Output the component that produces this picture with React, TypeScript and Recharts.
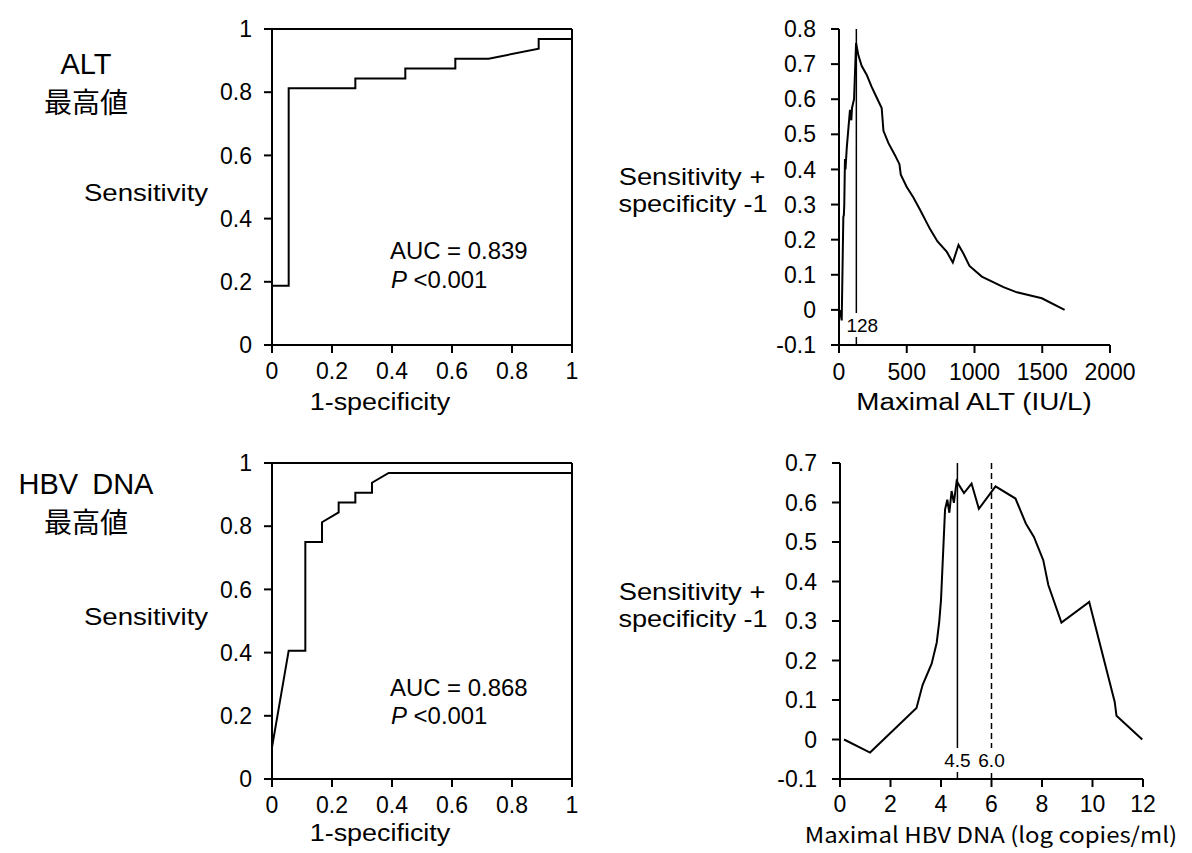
import React from 'react';
import { LineChart, Line, XAxis, YAxis, ReferenceLine } from 'recharts';

// ROC curve, maximal ALT
const altRocFpr = [0, 0.0556, 0.0556, 0.2778, 0.2778, 0.4444, 0.4444, 0.6111, 0.6111, 0.7222, 0.8889, 0.8889, 1];
const altRocTpr = [0.1875, 0.1875, 0.8125, 0.8125, 0.84375, 0.84375, 0.875, 0.875, 0.90625, 0.90625, 0.9375, 0.96875, 0.96875];

// ROC curve, maximal HBV DNA
const hbvRocFpr = [0, 0.0556, 0.1111, 0.1111, 0.1667, 0.1667, 0.2222, 0.2222, 0.2778, 0.2778, 0.3333, 0.3333, 0.3889, 1];
const hbvRocTpr = [0.1, 0.40625, 0.40625, 0.75, 0.75, 0.8125, 0.84375, 0.875, 0.875, 0.90625, 0.90625, 0.9375, 0.96875, 0.96875];

// Youden index vs maximal ALT
const altCutoff = [7, 20, 32, 36, 39, 44, 48, 57, 81, 91, 96, 111, 126, 143, 167, 204, 241, 278, 315, 328, 365, 414, 446, 456, 500, 549, 598, 672, 727, 796, 840, 882, 919, 963, 1054, 1214, 1313, 1497, 1665];
const altYouden = [0, -0.03, 0.265, 0.27, 0.3, 0.43, 0.4, 0.46, 0.57, 0.54, 0.575, 0.6, 0.76, 0.725, 0.695, 0.67, 0.635, 0.605, 0.575, 0.51, 0.475, 0.44, 0.415, 0.385, 0.35, 0.32, 0.285, 0.23, 0.195, 0.165, 0.135, 0.185, 0.16, 0.125, 0.095, 0.065, 0.05, 0.033, 0];

// Youden index vs maximal HBV DNA (log copies/ml)
const hbvCutoff = [0.16, 1.19, 3.03, 3.27, 3.63, 3.83, 3.93, 4.0, 4.16, 4.25, 4.33, 4.42, 4.51, 4.62, 4.91, 5.21, 5.5, 6.16, 6.95, 7.36, 7.68, 8.05, 8.25, 8.77, 9.87, 10.88, 10.95, 11.97];
const hbvYouden = [0, -0.033, 0.08, 0.138, 0.192, 0.245, 0.298, 0.353, 0.582, 0.607, 0.574, 0.629, 0.599, 0.654, 0.624, 0.648, 0.584, 0.641, 0.61, 0.547, 0.513, 0.454, 0.391, 0.296, 0.348, 0.095, 0.06, 0];

const rocTicks = [0, 0.2, 0.4, 0.6, 0.8, 1];
const altYTicks = [-0.1, 0, 0.1, 0.2, 0.3, 0.4, 0.5, 0.6, 0.7, 0.8];
const altXTicks = [0, 500, 1000, 1500, 2000];
const hbvYTicks = [-0.1, 0, 0.1, 0.2, 0.3, 0.4, 0.5, 0.6, 0.7];
const hbvXTicks = [0, 2, 4, 6, 8, 10, 12];

const altBestCut = 128;
const hbvBestCut = 4.65;
const hbvAltCut = 6.0;

const FONT = '"Liberation Sans", Arial, sans-serif';
const CJK = '"Noto Sans CJK JP", sans-serif';

const toRows = (xs: number[], ys: number[]) => xs.map((x, i) => ({ x, y: ys[i] }));

const fmtDec = (v: number) => (v === 0 || v === 1 ? String(v) : v.toFixed(1));
const fmtInt = (v: number) => String(v);

interface PanelProps {
  left: number;
  top: number;
  plotW: number;
  plotH: number;
  data: { x: number; y: number }[];
  xDomain: [number, number];
  yDomain: [number, number];
  xTicks: number[];
  yTicks: number[];
  xFmt: (v: number) => string;
  yFmt: (v: number) => string;
  xTickGap: number;
  yTickGap: number;
  children?: React.ReactNode;
}

const axisProps = {
  axisLine: { stroke: '#000', strokeWidth: 2 },
  tickLine: { stroke: '#000', strokeWidth: 2 },
  tickSize: 8,
  interval: 0 as const,
  tick: { fill: '#000', fontSize: 23, fontFamily: FONT },
};

// plot area lands exactly at (left, top) with size plotW x plotH
const Panel: React.FC<PanelProps> = ({ left, top, plotW, plotH, data, xDomain, yDomain, xTicks, yTicks, xFmt, yFmt, xTickGap, yTickGap, children }) => (
  <div style={{ position: 'absolute', left: left - 100, top: top - 28 }}>
    <LineChart
      width={plotW + 140}
      height={plotH + 78}
      data={data}
      margin={{ top: 28, right: 40, bottom: 0, left: 0 }}
      style={{ overflow: 'visible' }}
    >
      <XAxis
        type="number"
        dataKey="x"
        domain={xDomain}
        ticks={xTicks}
        tickFormatter={xFmt}
        height={50}
        tickMargin={xTickGap}
        {...axisProps}
      />
      <YAxis
        type="number"
        domain={yDomain}
        ticks={yTicks}
        tickFormatter={yFmt}
        width={100}
        tickMargin={yTickGap}
        {...axisProps}
      />
      {children}
      <Line dataKey="y" type="linear" stroke="#000" strokeWidth={2} dot={false} activeDot={false} isAnimationActive={false} />
    </LineChart>
  </div>
);

// cut-off label with white box that interrupts the reference line
const cutLabel = (text: string, dx: number, up: number) => (props: any) => {
  const vb = props.viewBox || {};
  const cx = vb.x + dx;
  const cy = vb.y + vb.height - up;
  const w = text.length * 10.5 + 4;
  return (
    <g>
      <rect x={cx - w / 2} y={cy - 12} width={w} height={24} fill="#fff" />
      <text x={cx} y={cy + 7} textAnchor="middle" fontSize={19} fontFamily={FONT} fill="#000">{text}</text>
    </g>
  );
};

const T: React.FC<{ x: number; y: number; sx?: number; size?: number; anchor?: 'start' | 'middle' | 'end'; family?: string; gap?: number; children: React.ReactNode }> = ({ x, y, sx = 1, size = 23, anchor = 'middle', family = FONT, gap, children }) => (
  <text transform={`translate(${x},${y}) scale(${sx},1)`} textAnchor={anchor} fontSize={size} fontFamily={family} wordSpacing={gap} fill="#000">
    {children}
  </text>
);

export default function App() {
  return (
    <div style={{ position: 'absolute', left: 0, top: 0, width: 1192, height: 853, background: '#fff', fontFamily: FONT }}>
      <Panel left={272} top={29} plotW={300} plotH={316} data={toRows(altRocFpr, altRocTpr)} xDomain={[0, 1]} yDomain={[0, 1]} xTicks={rocTicks} yTicks={rocTicks} xFmt={fmtDec} yFmt={fmtDec} xTickGap={10} yTickGap={12}>
        <ReferenceLine y={1} stroke="#000" strokeWidth={2} />
        <ReferenceLine x={1} stroke="#000" strokeWidth={2} />
      </Panel>
      <Panel left={839} top={29} plotW={271} plotH={316} data={toRows(altCutoff, altYouden)} xDomain={[0, 2000]} yDomain={[-0.1, 0.8]} xTicks={altXTicks} yTicks={altYTicks} xFmt={fmtInt} yFmt={fmtDec} xTickGap={11} yTickGap={15}>
        <ReferenceLine x={altBestCut} stroke="#000" strokeWidth={1.5} label={cutLabel('128', 6, 20)} />
      </Panel>
      <Panel left={272} top={463} plotW={300} plotH={316} data={toRows(hbvRocFpr, hbvRocTpr)} xDomain={[0, 1]} yDomain={[0, 1]} xTicks={rocTicks} yTicks={rocTicks} xFmt={fmtDec} yFmt={fmtDec} xTickGap={10} yTickGap={12}>
        <ReferenceLine y={1} stroke="#000" strokeWidth={2} />
        <ReferenceLine x={1} stroke="#000" strokeWidth={2} />
      </Panel>
      <Panel left={840} top={463} plotW={303} plotH={316} data={toRows(hbvCutoff, hbvYouden)} xDomain={[0, 12]} yDomain={[-0.1, 0.7]} xTicks={hbvXTicks} yTicks={hbvYTicks} xFmt={fmtInt} yFmt={fmtDec} xTickGap={9} yTickGap={15}>
        <ReferenceLine x={hbvBestCut} stroke="#000" strokeWidth={1.5} label={cutLabel('4.5', 0, 19)} />
        <ReferenceLine x={hbvAltCut} stroke="#000" strokeWidth={1.5} strokeDasharray="6 4" label={cutLabel('6.0', 0, 19)} />
      </Panel>

      <svg width={1192} height={853} style={{ position: 'absolute', left: 0, top: 0, pointerEvents: 'none' }}>
        <T x={86} y={74} size={29}>ALT</T>
        <T x={86} y={113} size={28} family={CJK}>最高値</T>
        <T x={86} y={494} size={29} gap={6}>HBV DNA</T>
        <T x={86} y={533} size={28} family={CJK}>最高値</T>

        <T x={146} y={201} sx={1.2}>Sensitivity</T>
        <T x={146} y={625} sx={1.2}>Sensitivity</T>

        <T x={390} y={259} anchor="start" sx={1.04}>AUC = 0.839</T>
        <T x={391} y={288} anchor="start" sx={1.04}><tspan fontStyle="italic">P</tspan> {'<0.001'}</T>
        <T x={390} y={696} anchor="start" sx={1.04}>AUC = 0.868</T>
        <T x={391} y={724} anchor="start" sx={1.04}><tspan fontStyle="italic">P</tspan> {'<0.001'}</T>

        <T x={380} y={410} sx={1.17}>1-specificity</T>
        <T x={380} y={841} sx={1.17}>1-specificity</T>

        <T x={692} y={185} sx={1.19}>Sensitivity +</T>
        <T x={693} y={212} sx={1.18}>specificity -1</T>
        <T x={692} y={600} sx={1.19}>Sensitivity +</T>
        <T x={693} y={627} sx={1.18}>specificity -1</T>

        <T x={974} y={410} sx={1.21}>Maximal ALT (IU/L)</T>
        <T x={991} y={843} size={22} sx={1.09} family={CJK}>Maximal HBV DNA (log copies/ml)</T>
      </svg>
    </div>
  );
}
